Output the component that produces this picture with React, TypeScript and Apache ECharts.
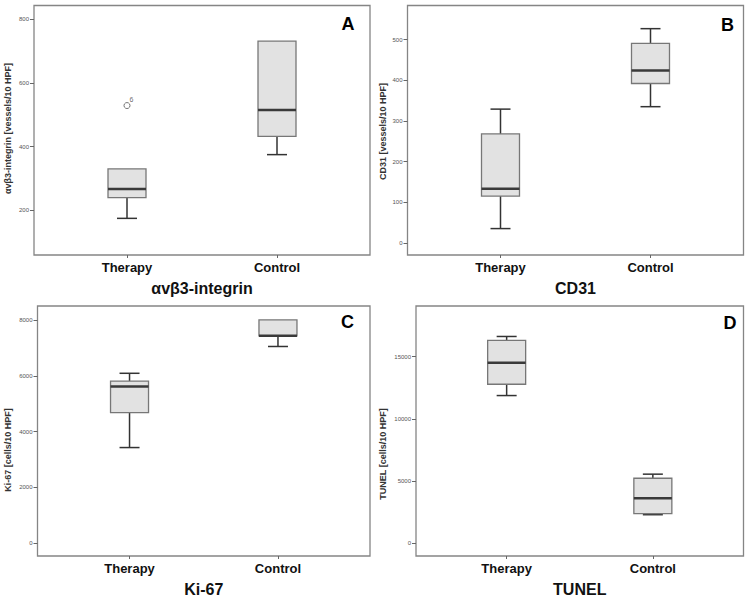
import React, { useEffect, useRef } from 'react';
import * as echarts from 'echarts';

// ---------- data ----------
const categories = ['Therapy', 'Control'];
// [lower whisker, Q1, median, Q3, upper whisker] per category
const integrinStats = [
  [175, 240, 267, 330, 330],
  [375, 432, 515, 731, 731],
];
const integrinOutliers: [number, number, string][] = [[0, 529, '6']];
const cd31Stats = [
  [35, 115, 133, 268, 329],
  [335, 392, 424, 491, 527],
];
const ki67Stats = [
  [3430, 4680, 5620, 5810, 6090],
  [7050, 7430, 7430, 8000, 8000],
];
const tunelStats = [
  [11880, 12790, 14520, 16310, 16630],
  [2300, 2380, 3620, 5230, 5560],
];
const integrinTicks = [200, 400, 600, 800];
const cd31Ticks = [0, 100, 200, 300, 400, 500];
const ki67Ticks = [0, 2000, 4000, 6000, 8000];
const tunelTicks = [0, 5000, 10000, 15000];

const panelTitles = ['αvβ3-integrin', 'CD31', 'Ki-67', 'TUNEL'];
const panelYNames = [
  'αvβ3-integrin [vessels/10 HPF]',
  'CD31 [vessels/10 HPF]',
  'Ki-67 [cells/10 HPF]',
  'TUNEL [cells/10 HPF]',
];
const panelLetters = ['A', 'B', 'C', 'D'];
const panelStats = [integrinStats, cd31Stats, ki67Stats, tunelStats];
const panelTicks = [integrinTicks, cd31Ticks, ki67Ticks, tunelTicks];
const panelRanges = [
  [60, 843],
  [-30, 584],
  [-454, 8500],
  [-1020, 19080],
];

// ---------- layout ----------
const frames = [
  { x1: 34, y1: 5.5, x2: 370, y2: 255 },
  { x1: 407.5, y1: 5.5, x2: 743.5, y2: 255 },
  { x1: 37.5, y1: 306, x2: 370, y2: 556 },
  { x1: 416, y1: 306, x2: 743.5, y2: 556 },
];
const letterPos = [
  [348, 24],
  [727.5, 24.5],
  [347.5, 321.5],
  [730, 323],
];
const yNamePos = [
  [7.5, 128.5],
  [382.5, 131.5],
  [7.5, 450],
  [382.5, 454],
];

const FONT = '"Liberation Sans", Arial, sans-serif';
const BOX_HALF = 19;
const CAP_HALF = 10;

function renderBox(params: any, api: any) {
  const x = api.value(0);
  const vLo = api.value(1);
  const vQ1 = api.value(2);
  const vQ3 = api.value(4);
  const vHi = api.value(5);
  const lo = api.coord([x, vLo]);
  const q1 = api.coord([x, vQ1]);
  const med = api.coord([x, api.value(3)]);
  const q3 = api.coord([x, vQ3]);
  const hi = api.coord([x, vHi]);
  const cx = lo[0];
  const ws = { stroke: '#333', lineWidth: 1.5 };
  const children: any[] = [];
  if (vLo < vQ1) {
    children.push({ type: 'line', shape: { x1: cx, y1: q1[1], x2: cx, y2: lo[1] }, style: ws });
    children.push({ type: 'line', shape: { x1: cx - CAP_HALF, y1: lo[1], x2: cx + CAP_HALF, y2: lo[1] }, style: ws });
  }
  if (vHi > vQ3) {
    children.push({ type: 'line', shape: { x1: cx, y1: q3[1], x2: cx, y2: hi[1] }, style: ws });
    children.push({ type: 'line', shape: { x1: cx - CAP_HALF, y1: hi[1], x2: cx + CAP_HALF, y2: hi[1] }, style: ws });
  }
  children.push({
    type: 'rect',
    shape: { x: cx - BOX_HALF, y: q3[1], width: BOX_HALF * 2, height: q1[1] - q3[1] },
    style: { fill: '#e2e2e2', stroke: '#777', lineWidth: 1.3 },
  });
  children.push({
    type: 'line',
    shape: { x1: cx - BOX_HALF, y1: med[1], x2: cx + BOX_HALF, y2: med[1] },
    style: { stroke: '#3a3a3a', lineWidth: 2.5 },
  });
  return { type: 'group', children };
}

export default function App() {
  const ref = useRef<HTMLDivElement>(null);
  useEffect(() => {
    if (!ref.current) return;
    const chart = echarts.init(ref.current, undefined, { renderer: 'svg' });
    const grid: any[] = [];
    const xAxis: any[] = [];
    const yAxis: any[] = [];
    const series: any[] = [];
    const graphic: any[] = [];
    frames.forEach((f, i) => {
      grid.push({
        left: f.x1,
        top: f.y1,
        width: f.x2 - f.x1,
        height: f.y2 - f.y1,
        show: true,
        borderColor: '#858585',
        borderWidth: 1.3,
        backgroundColor: 'transparent',
      });
      xAxis.push({
        type: 'value',
        gridIndex: i,
        position: 'bottom',
        min: -0.62,
        max: 1.62,
        axisLine: { show: false, onZero: false },
        splitLine: { show: false },
        axisTick: { show: true, customValues: [0, 1], length: 3, lineStyle: { color: '#666' } },
        axisLabel: {
          customValues: [0, 1],
          formatter: (v: number) => categories[Math.round(v)] ?? '',
          fontFamily: FONT,
          fontWeight: 'bold',
          fontSize: 13,
          color: '#111',
          margin: 6,
        },
        name: panelTitles[i],
        nameLocation: 'middle',
        nameGap: 25,
        nameTextStyle: { fontFamily: FONT, fontWeight: 'bold', fontSize: 16, color: '#111', verticalAlign: 'top' },
      });
      yAxis.push({
        type: 'value',
        gridIndex: i,
        position: 'left',
        min: panelRanges[i][0],
        max: panelRanges[i][1],
        axisLine: { show: false, onZero: false },
        splitLine: { show: false },
        axisTick: { show: true, customValues: panelTicks[i], length: 4, lineStyle: { color: '#666' } },
        axisLabel: {
          customValues: panelTicks[i],
          formatter: (v: number) => String(v),
          fontFamily: FONT,
          fontSize: 6,
          color: '#555',
          margin: 5,
        },
      });
      series.push({
        type: 'custom',
        xAxisIndex: i,
        yAxisIndex: i,
        renderItem: renderBox,
        encode: { x: 0, y: [1, 2, 3, 4, 5] },
        data: panelStats[i].map((s, k) => [k, ...s]),
        z: 3,
      });
      graphic.push({
        type: 'text',
        x: letterPos[i][0],
        y: letterPos[i][1],
        style: {
          text: panelLetters[i],
          fontFamily: FONT,
          fontWeight: 'bold',
          fontSize: 18,
          fill: '#000',
          align: 'center',
          verticalAlign: 'middle',
        },
      });
      graphic.push({
        type: 'text',
        x: yNamePos[i][0],
        y: yNamePos[i][1],
        rotation: Math.PI / 2,
        style: {
          text: panelYNames[i],
          fontFamily: FONT,
          fontWeight: 'bold',
          fontSize: 9,
          fill: '#333',
          align: 'center',
          verticalAlign: 'middle',
        },
      });
    });
    series.push({
      type: 'scatter',
      xAxisIndex: 0,
      yAxisIndex: 0,
      symbol: 'circle',
      symbolSize: 6,
      itemStyle: { color: '#fff', borderColor: '#555', borderWidth: 1 },
      data: integrinOutliers.map((o) => [o[0], o[1], o[2]]),
      label: {
        show: true,
        formatter: (p: any) => p.data[2],
        position: [6, -6],
        fontFamily: FONT,
        fontSize: 7,
        color: '#444',
      },
      z: 4,
    });
    chart.setOption({
      animation: false,
      backgroundColor: '#fff',
      grid,
      xAxis,
      yAxis,
      series,
      graphic,
    });
    return () => chart.dispose();
  }, []);
  return <div ref={ref} style={{ width: 750, height: 601, position: 'absolute', left: 0, top: 0 }} />;
}
